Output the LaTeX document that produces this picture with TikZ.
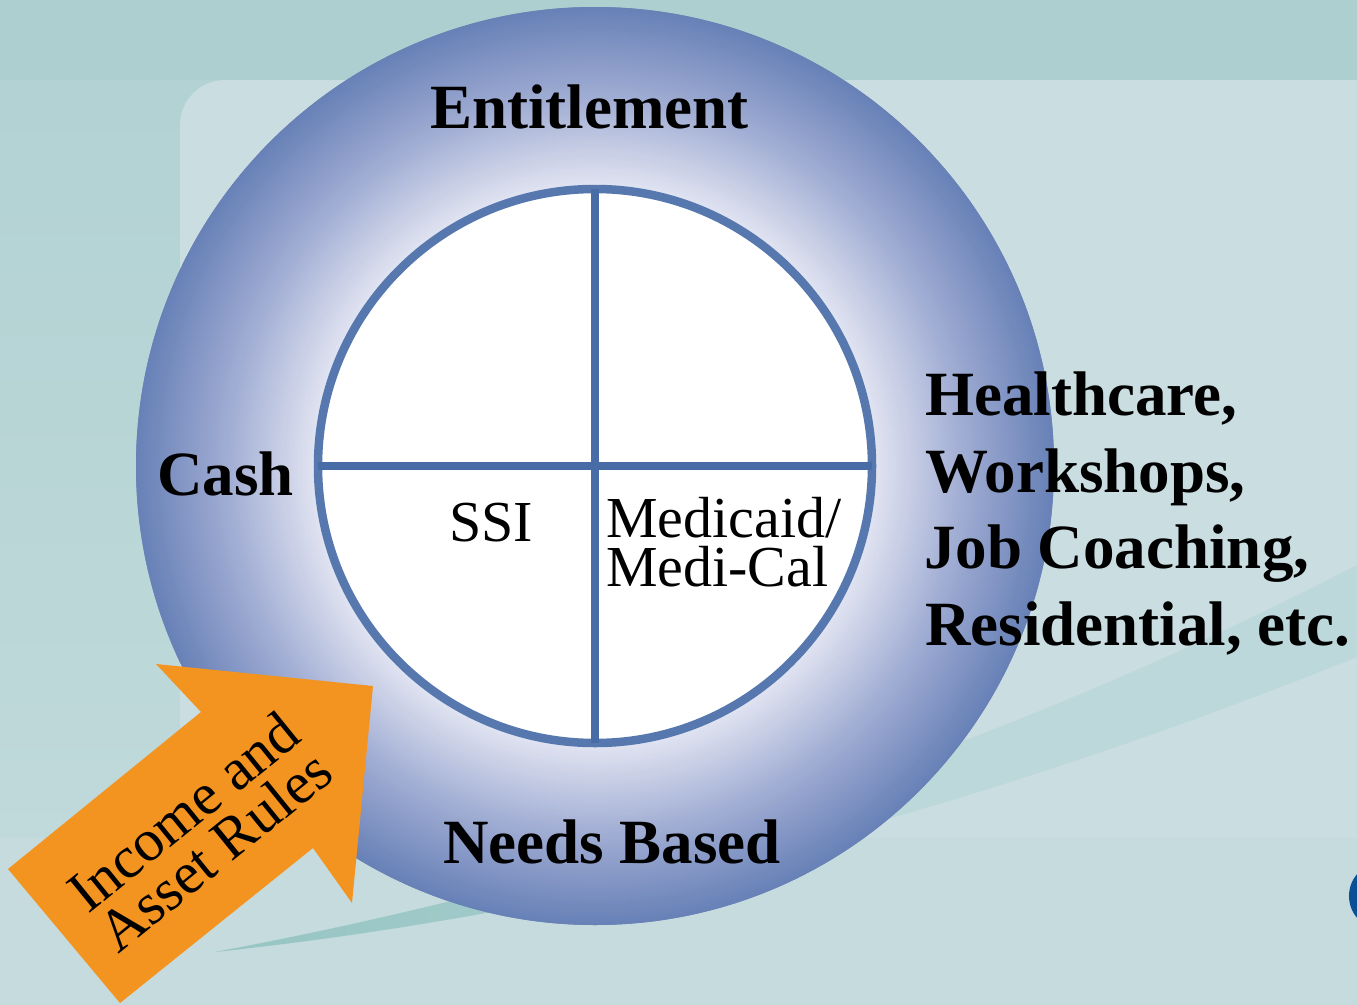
\documentclass[tikz,border=0pt]{standalone}
\usepackage{fontspec}
\setmainfont{Liberation Serif}
\definecolor{topband}{RGB}{174,207,208}
\definecolor{leftstripA}{RGB}{178,210,211}
\definecolor{leftstripB}{RGB}{195,219,220}
\definecolor{panel}{RGB}{202,221,225}
\definecolor{lowpanel}{RGB}{197,219,221}
\definecolor{swooshL}{RGB}{150,197,195}
\definecolor{swooshR}{RGB}{189,216,218}
\definecolor{ringlt}{RGB}{226,229,242}
\definecolor{ringmid}{RGB}{162,174,212}
\definecolor{ringdk}{RGB}{104,129,183}
\definecolor{wheel}{RGB}{86,120,174}
\definecolor{spoke}{RGB}{72,108,165}
\definecolor{arroworange}{RGB}{243,147,32}
\definecolor{logoblue}{RGB}{12,79,151}
\begin{document}
\begin{tikzpicture}[x=1pt,y=-1pt,
  boldlabel/.style={anchor=base west, inner sep=0pt, font=\fontsize{63}{76.7}\selectfont\bfseries},
  plainlabel/.style={anchor=base west, inner sep=0pt, font=\fontsize{58}{48}\selectfont}]
\useasboundingbox (0,0) rectangle (1357,1004);
\clip (0,0) rectangle (1357,1004);
% background
\fill[topband] (0,0) rectangle (1357,1004);
\shade[top color=leftstripA, bottom color=leftstripB] (0,80) rectangle (1357,1004);
\fill[panel, rounded corners=45pt] (180,80) rectangle (1420,900);
\fill[lowpanel] (0,838) rectangle (1357,1004);
% swoosh
\fill[swooshR] (215,952) .. controls (600,880) and (1000,750) .. (1357,565) -- (1357,657) .. controls (1100,760) and (700,900) .. (215,952) -- cycle;
\begin{scope}
\clip (200,700) rectangle (700,1004);
\shade[left color=swooshL, right color=swooshR] (215,952) .. controls (600,880) and (1000,750) .. (1357,565) -- (1357,657) .. controls (1100,760) and (700,900) .. (215,952) -- cycle;
\end{scope}
% logo fragment
\fill[logoblue] (1379,896) ellipse (30 and 32);
% ring
\node[circle, minimum size=918pt, inner sep=0pt, outer sep=0pt, fill=ringdk] (ring) at (595,466) {};
\foreach \k in {0,...,90}{
  \pgfmathsetmacro{\rr}{459-2*\k}
  \pgfmathtruncatemacro{\pa}{min(100,\k*100/46)}
  \pgfmathtruncatemacro{\pb}{max(0,(\k-46)*100/44)}
  \colorlet{ringtmp}{ringmid!\pa!ringdk}
  \fill[ringlt!\pb!ringtmp] (ring.center) circle (\rr);
}
% wheel
\node[circle, minimum size=554pt, inner sep=0pt, outer sep=0pt, draw=wheel, line width=8.5pt, fill=white] (wheel) at (ring.center) {};
\draw[spoke, line width=8pt] (wheel.north) -- (wheel.south);
\draw[spoke, line width=8pt] (wheel.west) -- (wheel.east);
% labels
\node[boldlabel] (ent) at (430,128) {Entitlement};
\node[boldlabel] (cash) at (157,495) {Cash};
\node[boldlabel] (needs) at (443,863) {Needs Based};
\node[boldlabel] (r1) at (925,415) {Healthcare,};
\node[boldlabel] (r2) at (925,492) {Workshops,};
\node[boldlabel] (r3) at (924,568) {Job Coaching,};
\node[boldlabel] (r4) at (925,645) {Residential, etc.};
\node[plainlabel] (ssi) at (449,541) {SSI};
\node[plainlabel] (med1) at (606,537) {Medicaid/};
\node[plainlabel] (med2) at (606,586) {Medi-Cal};
% arrow
\fill[arroworange] (8,869) -- (201,712) -- (156,664) -- (373,686) -- (352,903) -- (313,848) -- (120,1003) -- cycle;
\node[rotate=39, align=center, inner sep=0pt, font=\fontsize{59}{50}\selectfont] (rules) at (199,831) {Income and\\Asset Rules};
\end{tikzpicture}
\end{document}
